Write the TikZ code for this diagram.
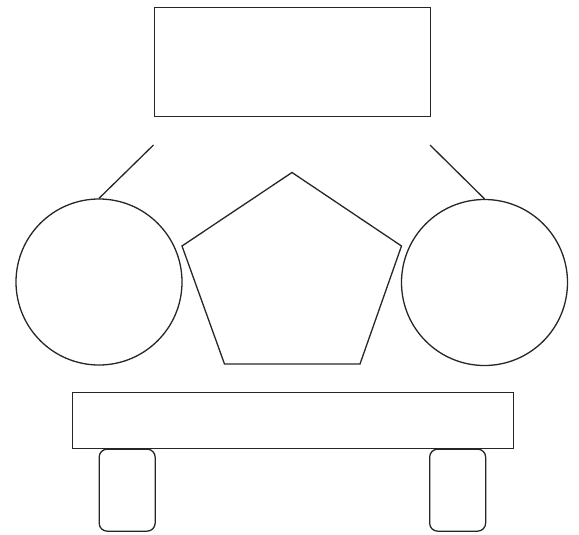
\documentclass[tikz,border=0pt]{standalone}
\begin{document}
\begin{tikzpicture}[x=1pt,y=-1pt,
  shape line/.style={draw=black!85,line width=1.3pt},
  boxshape/.style={shape line,rectangle,inner sep=0pt,anchor=north west},
  wheelshape/.style={shape line,rectangle,rounded corners=8pt,inner sep=0pt,anchor=north west,minimum width=56pt,minimum height=82pt},
  ballshape/.style={shape line,circle,inner sep=0pt,minimum size=166pt}]
\useasboundingbox (0,0) rectangle (579,535);
% top box
\node[boxshape,minimum width=276pt,minimum height=109pt] (top) at (154,7) {};
% circles
\node[ballshape] (lc) at (99,282) {};
\node[ballshape] (rc) at (484.5,282.5) {};
% connectors
\coordinate (la) at (153.5,145);
\coordinate (ra) at (430,145);
\draw[shape line] (la) -- (lc.north);
\draw[shape line] (ra) -- (rc.north);
% pentagon
\coordinate (p1) at (292,172.5);
\coordinate (p2) at (401.5,246);
\coordinate (p3) at (360,364);
\coordinate (p4) at (224.5,364);
\coordinate (p5) at (182,246);
\draw[shape line,line join=miter] (p1) -- (p2) -- (p3) -- (p4) -- (p5) -- cycle;
% base
\node[boxshape,minimum width=441pt,minimum height=56.5pt] (base) at (71.5,391.5) {};
% wheels
\node[wheelshape] (lw) at (98.5,448.5) {};
\node[wheelshape] (rw) at (429,448.5) {};
\end{tikzpicture}
\end{document}
